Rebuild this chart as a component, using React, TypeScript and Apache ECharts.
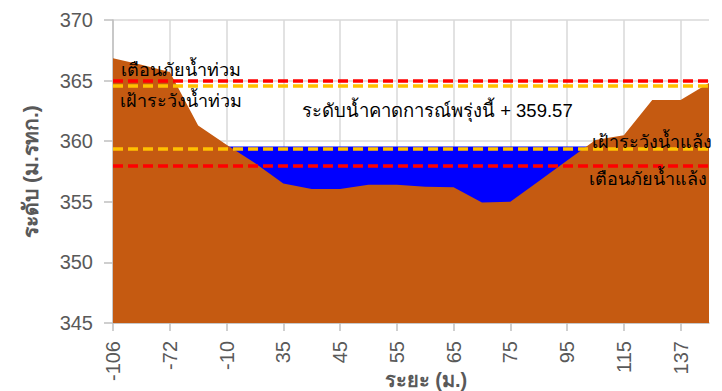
import React, { useEffect, useRef } from "react";
import * as echarts from "echarts";

// Distance categories (m). Only every other one is labelled on the axis.
const distances = ["-106", "-90", "-72", "-40", "-10", "15", "35", "40", "45", "50", "55", "60", "65", "70", "75", "85", "95", "105", "115", "125", "137", "145"];
// Ground elevation (m. MSL)
const groundLevel = [366.85, 366.3, 365.7, 361.3, 359.7, 358.2, 356.5, 356.05, 356.05, 356.4, 356.4, 356.25, 356.2, 354.95, 355.0, 356.7, 358.4, 360.1, 360.5, 363.4, 363.4, 364.8];
// Forecast water level across the channel (only where channel exists)
const waterLevel = ["-", "-", "-", "-", 359.57, 359.57, 359.57, 359.57, 359.57, 359.57, 359.57, 359.57, 359.57, 359.57, 359.57, 359.57, 359.57, 359.57, "-", "-", "-", "-"];
const FORECAST = 359.57;
// Reference levels
const FLOOD_WARNING = 365.0;
const FLOOD_WATCH = 364.6;
const DROUGHT_WATCH = 359.35;
const DROUGHT_WARNING = 358.0;
const yTicks = { min: 345, max: 370, interval: 5 };

const FONT = "'Liberation Sans', Arial, 'Noto Sans', sans-serif";

export default function App() {
  const ref = useRef<HTMLDivElement>(null);
  useEffect(() => {
    if (!ref.current) return;
    const chart = echarts.init(ref.current, undefined, { renderer: "svg" });
    const refLine = (value: number, color: string) => ({
      type: "line",
      data: [],
      z: 5,
      markLine: {
        silent: true,
        symbol: "none",
        label: { show: false },
        lineStyle: { color, width: 3.5, type: [10, 5] },
        data: [{ yAxis: value }],
        animation: false,
      },
    });
    chart.setOption({
      animation: false,
      textStyle: { fontFamily: FONT },
      grid: { left: 113, right: 13, top: 20, bottom: 68, containLabel: false, outerBoundsMode: "none" },
      xAxis: {
        type: "category",
        data: distances,
        boundaryGap: false,
        name: "ระยะ (ม.)",
        nameLocation: "middle",
        nameGap: 47,
        nameMoveOverlap: false,
        nameTextStyle: { fontSize: 20, fontWeight: "bold", color: "#595959", fontFamily: FONT, padding: [0, 0, 0, 30] },
        axisLine: { show: true, lineStyle: { color: "#BFBFBF", width: 1.5 } },
        axisTick: { show: true, interval: 1, length: 8, lineStyle: { color: "#BFBFBF", width: 1.5 } },
        axisLabel: { interval: 1, rotate: 90, margin: 18, fontSize: 20, color: "#595959", fontFamily: FONT },
        splitLine: { show: true, interval: 1, lineStyle: { color: "#D9D9D9", width: 1.5 } },
      },
      yAxis: {
        type: "value",
        min: yTicks.min,
        max: yTicks.max,
        interval: yTicks.interval,
        name: "ระดับ (ม.รทก.)",
        nameLocation: "middle",
        nameGap: 72,
        nameRotate: 90,
        nameMoveOverlap: false,
        nameTextStyle: { fontSize: 21, fontWeight: "bold", color: "#595959", fontFamily: FONT },
        axisLine: { show: true, lineStyle: { color: "#BFBFBF", width: 1.5 } },
        axisTick: { show: true, length: 9, lineStyle: { color: "#BFBFBF", width: 1.5 } },
        axisLabel: { margin: 20, fontSize: 20, color: "#595959", fontFamily: FONT },
        splitLine: { show: true, lineStyle: { color: "#D9D9D9", width: 1.5 } },
      },
      series: [
        {
          name: "ระดับน้ำ",
          type: "line",
          data: waterLevel,
          symbol: "none",
          lineStyle: { width: 0 },
          areaStyle: { color: "#0000FF", opacity: 1, origin: "start" },
          z: 1,
        },
        {
          name: "ระดับตลิ่ง",
          type: "line",
          data: groundLevel,
          symbol: "none",
          lineStyle: { width: 0 },
          areaStyle: { color: "#C55A11", opacity: 1, origin: "start" },
          z: 2,
        },
        refLine(FLOOD_WARNING, "#FF0000"),
        refLine(FLOOD_WATCH, "#FFC000"),
        refLine(DROUGHT_WATCH, "#FFC000"),
        refLine(DROUGHT_WARNING, "#FF0000"),
      ],
      graphic: [
        { type: "text", left: 121, top: 61, z: 10, style: { text: "เตือนภัยน้ำท่วม", font: `18px ${FONT}`, fill: "#000" } },
        { type: "text", left: 120, top: 92, z: 10, style: { text: "เฝ้าระวังน้ำท่วม", font: `18px ${FONT}`, fill: "#000" } },
        { type: "text", left: 302, top: 101, z: 10, style: { text: `ระดับน้ำคาดการณ์พรุ่งนี้ + ${FORECAST}`, font: `18.5px ${FONT}`, fill: "#000" } },
        { type: "text", left: 592, top: 133, z: 10, style: { text: "เฝ้าระวังน้ำแล้ง", font: `18px ${FONT}`, fill: "#000" } },
        { type: "text", left: 589, top: 170, z: 10, style: { text: "เตือนภัยน้ำแล้ง", font: `18px ${FONT}`, fill: "#000" } },
      ],
    });
    return () => chart.dispose();
  }, []);
  return <div ref={ref} style={{ width: 722, height: 391, position: "absolute", left: 0, top: 0 }} />;
}
